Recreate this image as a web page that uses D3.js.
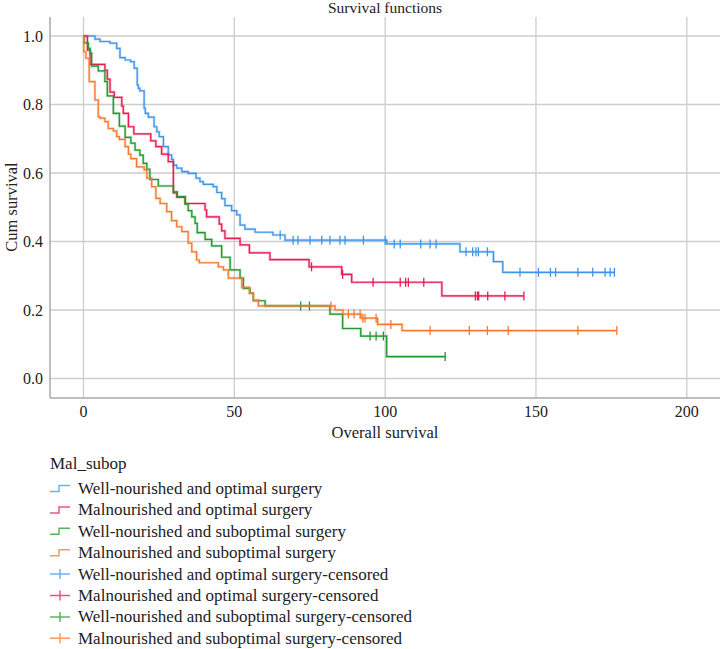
<!DOCTYPE html>
<html>
<head>
<meta charset="utf-8">
<script src="https://cdn.jsdelivr.net/npm/d3@7"></script>
<style>
  body { margin: 0; background: #fff; }
  text { font-family: "Liberation Serif", "DejaVu Serif", serif; fill: #222; }
</style>
</head>
<body>
<div class="box"></div>
<script>
// survival steps: [time, survival after the drop]
var wellOptSteps = [[0,1],[3.8,0.991],[5.5,0.984],[8.8,0.979],[11.0,0.964],[12.1,0.937],[13.8,0.930],[15.6,0.925],[16.8,0.906],[17.8,0.857],[18.2,0.847],[18.7,0.84],[20.1,0.789],[20.5,0.774],[21.5,0.763],[23.4,0.735],[24.3,0.72],[25.1,0.706],[26.5,0.677],[28.1,0.653],[29.2,0.64],[29.8,0.623],[30.9,0.614],[32.6,0.604],[34.7,0.599],[37.3,0.585],[38.6,0.575],[39.7,0.567],[43,0.56],[44.2,0.543],[45.8,0.525],[46.9,0.505],[49.1,0.49],[50.8,0.478],[51.9,0.448],[53.5,0.436],[56.9,0.427],[62.8,0.419],[66.8,0.404],[100.5,0.393],[124.8,0.370],[135.9,0.341],[139,0.310]];
var wellOptCens = [65.2,69.5,71.1,75.1,79,81.7,85,86.7,92.8,100,103,105,111.8,114.9,116.9,126.8,129,130.1,130.9,133.9,144.7,150.8,154.8,156.5,163.9,168.8,172.9,174.6,176];

var malOptSteps = [[0,1],[1.3,0.959],[2.2,0.917],[7.1,0.9],[7.9,0.874],[8.8,0.836],[10.2,0.821],[12.7,0.795],[13.2,0.774],[14.9,0.735],[16.7,0.714],[22.3,0.694],[24,0.677],[25.9,0.655],[28.1,0.633],[29.8,0.542],[30.9,0.529],[33.7,0.511],[40.3,0.492],[40.8,0.472],[45,0.451],[45.8,0.431],[46.9,0.409],[51.9,0.39],[55,0.367],[61.8,0.347],[74.8,0.326],[85.6,0.304],[88.9,0.281],[118.8,0.241]];
var malOptCens = [75.6,85.9,96,105,106.8,107.7,112.8,129.9,130.6,131,134,139.7,146];

var wellSubSteps = [[0,1],[0.2,0.98],[1.6,0.964],[2.2,0.95],[2.7,0.912],[4.9,0.898],[7.1,0.867],[7.9,0.825],[9.9,0.774],[11.9,0.737],[13.8,0.704],[15.7,0.687],[17.1,0.667],[18.7,0.652],[19.8,0.628],[21,0.611],[22,0.581],[24.8,0.562],[29.8,0.545],[31.1,0.531],[33.7,0.509],[34.7,0.49],[35.9,0.472],[37,0.453],[37.7,0.426],[40.3,0.406],[42.5,0.387],[45.8,0.354],[48.6,0.317],[51.9,0.293],[53,0.263],[55.2,0.249],[56.3,0.227],[60.2,0.212],[81.7,0.188],[85.9,0.146],[91.9,0.124],[100.5,0.064]];
var wellSubCens = [72,74.9,95,97,99.4,119.9];

var malSubSteps = [[0,1],[0.1,0.954],[0.8,0.935],[1.9,0.867],[3.8,0.813],[4.9,0.764],[5.5,0.76],[7.1,0.75],[8.2,0.73],[9.9,0.723],[11,0.706],[11.9,0.698],[13.8,0.677],[14.9,0.655],[15.7,0.642],[17.6,0.618],[20.1,0.609],[21,0.585],[22.6,0.56],[24,0.526],[25.4,0.511],[27.6,0.487],[29.2,0.461],[30.9,0.443],[32.6,0.429],[34.7,0.395],[35.9,0.37],[37.5,0.346],[38.4,0.338],[44.7,0.326],[46.4,0.317],[48,0.293],[52.5,0.266],[55,0.249],[56.3,0.229],[58,0.212],[83.4,0.2],[86,0.188],[92,0.176],[97.5,0.158],[105.6,0.14]];
var malSubCens = [82,87.8,89.7,91.7,92.6,93.3,97,101.9,114.9,127.9,133.9,140.8,163.9,176.8];

var groups = ["Well-nourished and optimal surgery", "Malnourished and optimal surgery",
              "Well-nourished and suboptimal surgery", "Malnourished and suboptimal surgery"];
var colors = ["#3f95ea", "#ea1a52", "#22992e", "#f7792f"];
var xTicks = [0, 50, 100, 150, 200];
var yTicks = [0, 0.2, 0.4, 0.6, 0.8, 1.0];

var width = 720, height = 649;
var plot = { left: 50, right: 720, top: 17, bottom: 398 };

var x = d3.scaleLinear().domain([-11.1, 211]).range([plot.left, plot.right]);
var y = d3.scaleLinear().domain([0, 1]).range([378.5, 36]);

const svg = d3.create("svg")
    .attr("width", width)
    .attr("height", height)
    .attr("viewBox", [0, 0, width, height]);

svg.append("rect").attr("width", width).attr("height", height).attr("fill", "#fff");

// grid
svg.append("g")
    .selectAll("line")
    .data(yTicks)
    .join("line")
    .attr("x1", plot.left).attr("x2", plot.right)
    .attr("y1", d => y(d)).attr("y2", d => y(d))
    .attr("stroke", "#cdcdcd").attr("stroke-width", 1.3);

svg.append("g")
    .selectAll("line")
    .data(xTicks)
    .join("line")
    .attr("x1", d => x(d)).attr("x2", d => x(d))
    .attr("y1", plot.top).attr("y2", plot.bottom)
    .attr("stroke", "#cdcdcd").attr("stroke-width", 1.3);

// axis lines
svg.append("line")
    .attr("x1", plot.left).attr("x2", plot.left)
    .attr("y1", plot.top).attr("y2", plot.bottom)
    .attr("stroke", "#a8a8a8").attr("stroke-width", 1.5);
svg.append("line")
    .attr("x1", plot.left).attr("x2", plot.right)
    .attr("y1", plot.bottom).attr("y2", plot.bottom)
    .attr("stroke", "#a8a8a8").attr("stroke-width", 1.5);

// tick labels
svg.append("g")
    .selectAll("text")
    .data(yTicks)
    .join("text")
    .attr("x", 43)
    .attr("y", d => y(d) + 5.5)
    .attr("text-anchor", "end")
    .attr("font-size", 16)
    .text(d => d3.format(".1f")(d));

svg.append("g")
    .selectAll("text")
    .data(xTicks)
    .join("text")
    .attr("x", d => x(d))
    .attr("y", 417)
    .attr("text-anchor", "middle")
    .attr("font-size", 16)
    .text(d => d);

// titles
svg.append("text")
    .attr("x", 385).attr("y", 12.5)
    .attr("text-anchor", "middle")
    .attr("font-size", 15.5)
    .text("Survival functions");

svg.append("text")
    .attr("x", 385).attr("y", 438)
    .attr("text-anchor", "middle")
    .attr("font-size", 16.5)
    .text("Overall survival");

svg.append("text")
    .attr("transform", "translate(17,207) rotate(-90)")
    .attr("text-anchor", "middle")
    .attr("font-size", 16.5)
    .text("Cum survival");

// curves
var allSteps = [wellOptSteps, malOptSteps, wellSubSteps, malSubSteps];
var allCens = [wellOptCens, malOptCens, wellSubCens, malSubCens];

function survAt(steps, t) {
    var s = 1;
    steps.forEach(function (p) { if (p[0] <= t) s = p[1]; });
    return s;
}

var line = d3.line()
    .x(d => x(d[0]))
    .y(d => y(d[1]))
    .curve(d3.curveStepAfter);

allSteps.forEach(function (steps, i) {
    var cens = allCens[i];
    var lastT = Math.max(steps[steps.length - 1][0], d3.max(cens));
    var pts = steps.concat([[lastT, steps[steps.length - 1][1]]]);

    svg.append("path")
        .attr("d", line(pts))
        .attr("fill", "none")
        .attr("stroke", colors[i])
        .attr("stroke-opacity", 0.35)
        .attr("stroke-width", 2.6);
    svg.append("path")
        .attr("d", line(pts))
        .attr("fill", "none")
        .attr("stroke", colors[i])
        .attr("stroke-width", 1.2);

    svg.append("g")
        .selectAll("line")
        .data(cens)
        .join("line")
        .attr("x1", d => x(d)).attr("x2", d => x(d))
        .attr("y1", d => y(survAt(steps, d)) - 4.5)
        .attr("y2", d => y(survAt(steps, d)) + 4.5)
        .attr("stroke", colors[i])
        .attr("stroke-width", 1.3);
});

// legend
var legend = svg.append("g").attr("transform", "translate(50,0)");
legend.append("text")
    .attr("x", 0).attr("y", 469)
    .attr("font-size", 17)
    .text("Mal_subop");

var items = groups.map((g, i) => ({ label: g, color: colors[i], cens: false }))
    .concat(groups.map((g, i) => ({ label: g + "-censored", color: colors[i], cens: true })));

var rows = legend.selectAll("g.item")
    .data(items)
    .join("g")
    .attr("class", "item")
    .attr("transform", (d, i) => `translate(0,${488.5 + i * 21.4})`);

rows.append("path")
    .attr("d", d => d.cens ? "M0,0H20M10,-5V5" : "M0,3H9V-3H20")
    .attr("fill", "none")
    .attr("stroke", d => d.color)
    .attr("stroke-opacity", 0.75)
    .attr("stroke-width", 1.5);

rows.append("text")
    .attr("x", 28).attr("y", 5.5)
    .attr("font-size", 17)
    .text(d => d.label);

document.querySelector(".box").appendChild(svg.node());
</script>
</body>
</html>
